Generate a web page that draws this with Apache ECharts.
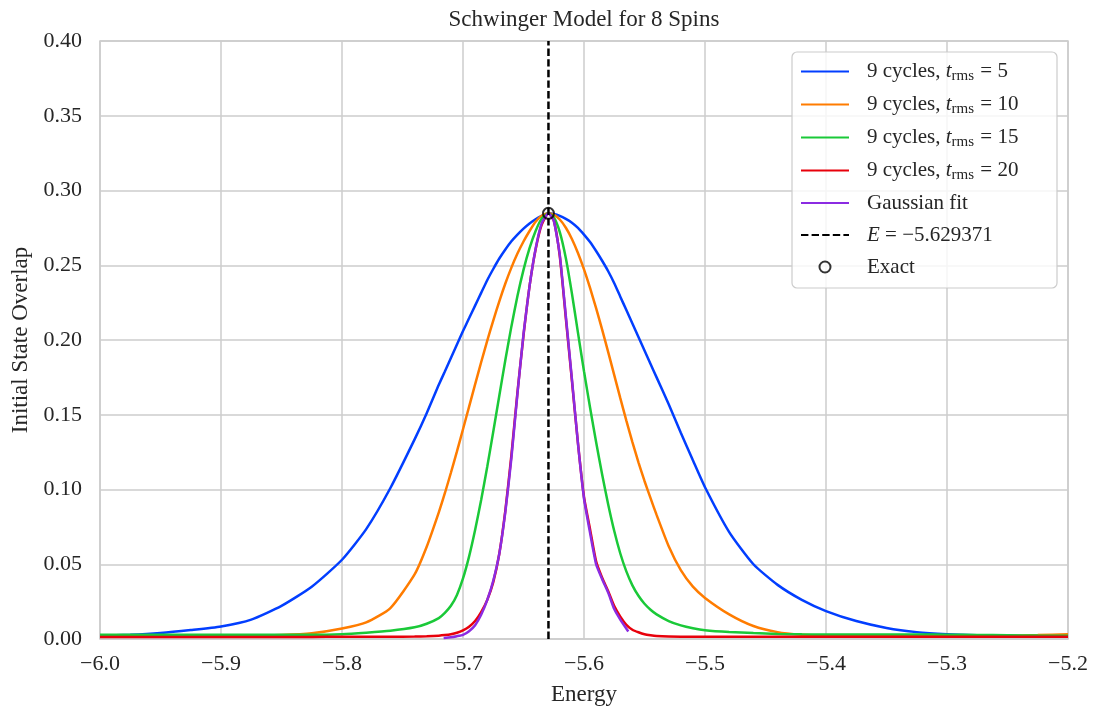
<!DOCTYPE html>
<html>
<head>
<meta charset="utf-8">
<script src="https://cdn.jsdelivr.net/npm/echarts@6/dist/echarts.min.js"></script>
<style>
html,body{margin:0;padding:0;background:#fff;}
#chart{width:1093px;height:711px;}
</style>
</head>
<body>
<div id="chart"></div>
<script>
// ---- data ----
const titleText = 'Schwinger Model for 8 Spins';
const xAxisName = 'Energy';
const yAxisName = 'Initial State Overlap';
const numCycles = 9;
const tRms = [5, 10, 15, 20];
const exactEnergy = -5.629371;
const exactOverlap = 0.2847;
const xTicks = [-6.0, -5.9, -5.8, -5.7, -5.6, -5.5, -5.4, -5.3, -5.2];
const yTicks = [0.00, 0.05, 0.10, 0.15, 0.20, 0.25, 0.30, 0.35, 0.40];

const energies = [
  -6.00, -5.975, -5.95, -5.925, -5.90, -5.875, -5.85, -5.825, -5.80, -5.78,
  -5.76, -5.74, -5.73, -5.72, -5.715, -5.71, -5.705, -5.70, -5.695, -5.69,
  -5.685, -5.68, -5.675, -5.67, -5.665, -5.66, -5.655, -5.65, -5.645, -5.64,
  -5.635, -5.6294, -5.625, -5.62, -5.615, -5.61, -5.605, -5.60, -5.595, -5.59,
  -5.585, -5.58, -5.575, -5.57, -5.565, -5.56, -5.555, -5.55, -5.545, -5.54,
  -5.53, -5.52, -5.51, -5.50, -5.48, -5.46, -5.44, -5.42, -5.40, -5.375,
  -5.35, -5.325, -5.30, -5.275, -5.25, -5.225, -5.20];

const overlapT5 = [
  0.0022, 0.0028, 0.0040, 0.0060, 0.0084, 0.0130, 0.0222, 0.035, 0.053, 0.0735,
  0.101, 0.1335, 0.151, 0.170, 0.179, 0.188, 0.197, 0.206, 0.2145, 0.223,
  0.2315, 0.240, 0.2475, 0.2545, 0.2605, 0.266, 0.2705, 0.2745, 0.278, 0.2808,
  0.283, 0.2848, 0.2843, 0.2830, 0.2810, 0.2785, 0.275, 0.2705, 0.2655, 0.2595,
  0.253, 0.246, 0.238, 0.229, 0.220, 0.211, 0.202, 0.193, 0.184, 0.175,
  0.157, 0.138, 0.1195, 0.1015, 0.0715, 0.050, 0.0362, 0.0262, 0.0187, 0.0120,
  0.0074, 0.0046, 0.0032, 0.0025, 0.0022, 0.0020, 0.0020];

const overlapT10 = [
  0.0022, 0.0022, 0.0022, 0.0022, 0.0022, 0.0022, 0.0026, 0.0038, 0.0070, 0.0111,
  0.0207, 0.0432, 0.0617, 0.0847, 0.0975, 0.1112, 0.1255, 0.1403, 0.1553, 0.1703,
  0.1851, 0.1994, 0.2130, 0.2259, 0.2378, 0.2484, 0.2578, 0.2659, 0.2729, 0.2791,
  0.2831, 0.2848, 0.2839, 0.2806, 0.2751, 0.2676, 0.2582, 0.2472, 0.2348, 0.2213,
  0.2069, 0.1919, 0.1765, 0.1611, 0.1461, 0.1317, 0.1182, 0.1057, 0.0942, 0.0830,
  0.062, 0.046, 0.035, 0.0275, 0.0165, 0.0087, 0.0046, 0.0029, 0.0022, 0.0020,
  0.0020, 0.0020, 0.0020, 0.0021, 0.0022, 0.0026, 0.0031];

const overlapT15 = [
  0.0028, 0.0028, 0.0028, 0.0028, 0.0028, 0.0028, 0.0028, 0.0028, 0.0032, 0.0042,
  0.0055, 0.0078, 0.0102, 0.0140, 0.0175, 0.0222, 0.0295, 0.0405, 0.0551, 0.0729,
  0.0930, 0.1151, 0.1386, 0.1627, 0.1866, 0.2091, 0.2294, 0.2469, 0.2614, 0.2729,
  0.2812, 0.2848, 0.2822, 0.2722, 0.2547, 0.2312, 0.2049, 0.1791, 0.1548, 0.1318,
  0.1100, 0.0900, 0.0722, 0.0572, 0.0452, 0.0359, 0.0289, 0.0236, 0.0196, 0.0165,
  0.0120, 0.0091, 0.0072, 0.0059, 0.0047, 0.0040, 0.0034, 0.0031, 0.0030, 0.0030,
  0.0030, 0.0030, 0.0029, 0.0027, 0.0025, 0.0023, 0.0022];

const overlapT20 = [
  0.0014, 0.0014, 0.0014, 0.0014, 0.0014, 0.0014, 0.0014, 0.0014, 0.0015, 0.0015,
  0.0015, 0.0016, 0.0018, 0.0022, 0.0026, 0.0032, 0.0042, 0.0058, 0.0082, 0.0120,
  0.0180, 0.0260, 0.0380, 0.057, 0.086, 0.123, 0.165, 0.203, 0.236, 0.2605,
  0.277, 0.2848, 0.280, 0.256, 0.2145, 0.173, 0.131, 0.095, 0.0735, 0.052,
  0.041, 0.032, 0.022, 0.015, 0.0095, 0.0062, 0.0045, 0.0032, 0.0025, 0.0020,
  0.0016, 0.0015, 0.0015, 0.0015, 0.0015, 0.0015, 0.0015, 0.0015, 0.0015, 0.0015,
  0.0015, 0.0015, 0.0015, 0.0015, 0.0015, 0.0015, 0.0015];

const fitEnergies = [-5.716, -5.71, -5.705, -5.70, -5.695, -5.69, -5.685, -5.68, -5.675, -5.67,
  -5.665, -5.66, -5.655, -5.65, -5.645, -5.64, -5.635, -5.6294, -5.625, -5.62,
  -5.615, -5.61, -5.605, -5.60, -5.595, -5.59, -5.585, -5.58, -5.575, -5.57, -5.5634];
const fitOverlap = [0.0007, 0.0012, 0.0019, 0.0028, 0.0052, 0.0092, 0.0162, 0.026, 0.039, 0.057,
  0.085, 0.121, 0.164, 0.204, 0.236, 0.261, 0.278, 0.2848, 0.280, 0.257,
  0.216, 0.174, 0.131, 0.094, 0.071, 0.050, 0.040, 0.031, 0.020, 0.013, 0.005];

const curveColors = ['#023eff', '#ff7c00', '#1ac938', '#e8000b'];
const fitColor = '#8b2be2';

// ---- chart ----
const FONT = '"Liberation Serif", "DejaVu Serif", serif';
const TXT = '#262626';
const minus = v => (v < 0 ? '\u2212' : '') + Math.abs(v);

const curves = [overlapT5, overlapT10, overlapT15, overlapT20];

const series = [];
curves.forEach((vals, k) => {
  series.push({
    name: numCycles + ' cycles, t_rms = ' + tRms[k],
    type: 'line',
    data: energies.map((e, i) => [e, vals[i]]),
    symbol: 'none',
    smooth: 0.2,
    lineStyle: { width: 2.5, color: curveColors[k] },
    itemStyle: { color: curveColors[k] },
    animation: false
  });
});
series.push({
  name: 'Gaussian fit',
  type: 'line',
  data: fitEnergies.map((e, i) => [e, fitOverlap[i]]),
  symbol: 'none',
  smooth: 0.15,
  lineStyle: { width: 2.5, color: fitColor },
  itemStyle: { color: fitColor },
  animation: false
});
series.push({
  name: 'E_line',
  type: 'line',
  data: [[exactEnergy, yTicks[0]], [exactEnergy, yTicks[yTicks.length - 1]]],
  symbol: 'none',
  lineStyle: { width: 2.5, color: '#000', type: [7.4, 3.2] },
  itemStyle: { color: '#000' },
  animation: false
});
series.push({
  name: 'Exact',
  type: 'scatter',
  data: [[exactEnergy, exactOverlap]],
  symbol: 'circle',
  symbolSize: 11,
  itemStyle: { color: 'rgba(0,0,0,0)', borderColor: '#000', borderWidth: 2 },
  z: 5,
  animation: false
});

function legendFormatter(name) {
  const m = name.match(/t_rms = (\d+)/);
  if (m) return '{n|' + numCycles + ' cycles, }{i|t}{s|rms}{n| = ' + m[1] + '}';
  if (name === 'E_line') return '{i|E}{n| = ' + minus(exactEnergy) + '}';
  return '{n|' + name + '}';
}

const legendData = series.map(s => (
  s.type === 'line'
    ? { name: s.name, itemStyle: { opacity: 0 } }
    : { name: s.name }
));

const chart = echarts.init(document.getElementById('chart'), null, { renderer: 'canvas' });
chart.setOption({
  animation: false,
  backgroundColor: '#ffffff',
  title: {
    text: titleText,
    left: 579,
    textAlign: 'center',
    top: 3,
    textStyle: { fontFamily: FONT, fontWeight: 'normal', fontSize: 23, color: TXT }
  },
  grid: {
    left: 100, right: 25, top: 41, bottom: 70,
    show: true, borderColor: '#cccccc', borderWidth: 1.5, backgroundColor: '#ffffff'
  },
  xAxis: {
    type: 'value',
    min: xTicks[0], max: xTicks[xTicks.length - 1], interval: 0.1,
    axisLine: { show: false }, axisTick: { show: false },
    splitLine: { show: true, lineStyle: { color: '#cccccc', width: 1.5 } },
    axisLabel: {
      fontFamily: FONT, fontSize: 22, color: TXT, margin: 14,
      formatter: v => (v < 0 ? '\u2212' : '') + Math.abs(v).toFixed(1)
    },
    name: xAxisName, nameLocation: 'middle', nameGap: 44,
    nameTextStyle: { fontFamily: FONT, fontSize: 23, color: TXT }
  },
  yAxis: {
    type: 'value',
    min: yTicks[0], max: yTicks[yTicks.length - 1], interval: 0.05,
    axisLine: { show: false }, axisTick: { show: false },
    splitLine: { show: true, lineStyle: { color: '#cccccc', width: 1.5 } },
    axisLabel: {
      fontFamily: FONT, fontSize: 22, color: TXT, margin: 18,
      formatter: v => v.toFixed(2)
    },
    name: yAxisName, nameLocation: 'middle', nameGap: 63, nameRotate: 90,
    nameTextStyle: { fontFamily: FONT, fontSize: 23, color: TXT }
  },
  legend: {
    orient: 'vertical',
    left: 792, top: 52,
    itemWidth: 48, itemHeight: 11, itemGap: 8,
    padding: [7, 20, 9, 8],
    backgroundColor: 'rgba(255,255,255,0.8)',
    borderColor: '#cccccc', borderWidth: 1.2, borderRadius: 5,
    data: legendData,
    formatter: legendFormatter,
    textStyle: {
      fontFamily: FONT, fontSize: 21, color: TXT, lineHeight: 24,
      padding: [0, 0, 0, 13], width: 170,
      rich: {
        n: { fontFamily: FONT, fontSize: 21, color: TXT, lineHeight: 24, verticalAlign: 'middle' },
        i: { fontFamily: FONT, fontSize: 21, color: TXT, fontStyle: 'italic', lineHeight: 24, verticalAlign: 'middle' },
        s: { fontFamily: FONT, fontSize: 15, color: TXT, lineHeight: 14, padding: [10, 1, 0, 0], verticalAlign: 'middle' }
      }
    }
  },
  series: series
});
</script>
</body>
</html>
